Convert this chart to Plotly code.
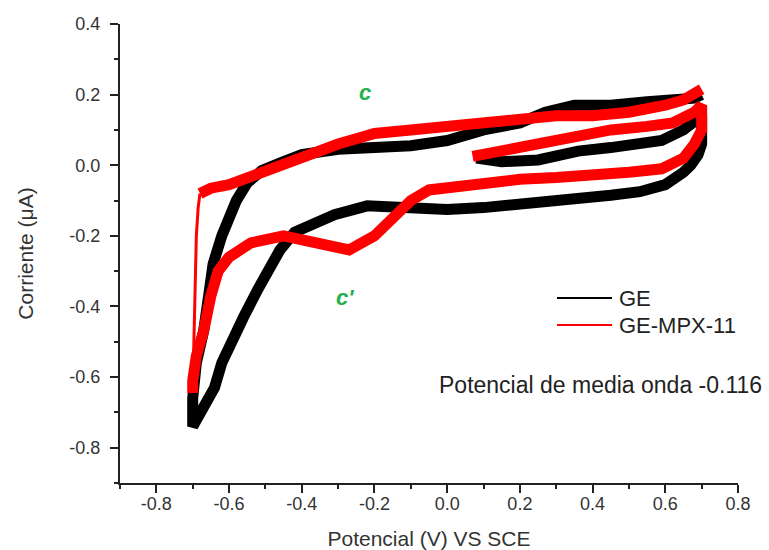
import plotly.graph_objects as go

# ---- data (V, µA) ----
# GE (black): start of scan (middle band) -> reverse (lower branch) -> forward (upper branch)
ge_x = [0.08, 0.15, 0.25, 0.36, 0.45, 0.52, 0.59, 0.65, 0.68, 0.70,
        0.70, 0.69, 0.67, 0.65, 0.60, 0.53, 0.45, 0.32, 0.20, 0.10, 0.00, -0.10, -0.22,
        -0.31, -0.36, -0.42, -0.46, -0.49, -0.52, -0.56, -0.59, -0.62, -0.64, -0.67, -0.70,
        -0.70, -0.69, -0.67, -0.657, -0.644, -0.62, -0.60, -0.58, -0.55, -0.51, -0.45, -0.40,
        -0.30, -0.20, -0.10, 0.00, 0.10, 0.20, 0.27, 0.35, 0.45, 0.55, 0.62, 0.68, 0.70]
ge_y = [0.02, 0.01, 0.015, 0.04, 0.05, 0.06, 0.07, 0.10, 0.12, 0.14,
        0.06, 0.03, 0.00, -0.02, -0.055, -0.075, -0.085, -0.10, -0.11, -0.12, -0.125, -0.12, -0.115,
        -0.14, -0.16, -0.19, -0.24, -0.29, -0.35, -0.43, -0.49, -0.56, -0.63, -0.69, -0.74,
        -0.66, -0.56, -0.47, -0.37, -0.28, -0.20, -0.15, -0.10, -0.05, -0.015, 0.01, 0.03,
        0.045, 0.05, 0.055, 0.07, 0.10, 0.12, 0.15, 0.17, 0.17, 0.18, 0.185, 0.19, 0.20]

# GE-MPX-11 (red): start (middle band) + reverse (lower branch with c')
mpx_low_x = [0.07, 0.15, 0.25, 0.33, 0.45, 0.55, 0.62, 0.68, 0.70,
             0.70, 0.68, 0.65, 0.59, 0.50, 0.40, 0.30, 0.20, 0.10, 0.00, -0.05, -0.10, -0.15,
             -0.20, -0.27, -0.32, -0.36, -0.45, -0.54, -0.60, -0.63, -0.65, -0.67, -0.69, -0.70, -0.70]
mpx_low_y = [0.025, 0.04, 0.06, 0.08, 0.10, 0.11, 0.12, 0.15, 0.17,
             0.10, 0.06, 0.02, -0.01, -0.02, -0.03, -0.035, -0.04, -0.05, -0.06, -0.07, -0.10, -0.15,
             -0.20, -0.24, -0.23, -0.22, -0.20, -0.22, -0.26, -0.30, -0.37, -0.47, -0.54, -0.61, -0.645]
# red vertical jump at the switching potential
mpx_jump_x = [-0.70, -0.695, -0.69, -0.685, -0.68]
mpx_jump_y = [-0.645, -0.40, -0.20, -0.12, -0.08]
# red forward (upper) branch
mpx_up_x = [-0.68, -0.65, -0.60, -0.55, -0.50, -0.45, -0.40, -0.35, -0.30, -0.25, -0.20,
            -0.10, 0.00, 0.10, 0.20, 0.30, 0.40, 0.50, 0.60, 0.65, 0.70]
mpx_up_y = [-0.08, -0.065, -0.055, -0.035, -0.015, 0.00, 0.02, 0.04, 0.06, 0.075, 0.09,
            0.10, 0.11, 0.12, 0.13, 0.14, 0.14, 0.15, 0.17, 0.185, 0.215]

series_names = ["GE", "GE-MPX-11"]
series_colors = ["#000000", "#ff0000"]

x_ticks = [-0.8, -0.6, -0.4, -0.2, 0.0, 0.2, 0.4, 0.6, 0.8]
y_ticks = [-0.8, -0.6, -0.4, -0.2, 0.0, 0.2, 0.4]

FONT = "Liberation Sans, Arial, sans-serif"
GREEN = "#22b14c"

# plot area in pixels (used only to place the manual legend / note in paper units)
L, R, T, B = 120, 738, 24, 483
def px(xp):
    return (xp - L) / (R - L)
def py(yp):
    return (B - yp) / (B - T)

fig = go.Figure()

band_w = 11
fig.add_trace(go.Scatter(x=ge_x, y=ge_y, mode="lines", name=series_names[0], showlegend=False,
                         line=dict(color=series_colors[0], width=band_w), hoverinfo="skip"))
fig.add_trace(go.Scatter(x=mpx_low_x, y=mpx_low_y, mode="lines", name=series_names[1], showlegend=False,
                         line=dict(color=series_colors[1], width=band_w), hoverinfo="skip"))
fig.add_trace(go.Scatter(x=mpx_jump_x, y=mpx_jump_y, mode="lines", showlegend=False,
                         line=dict(color=series_colors[1], width=3), hoverinfo="skip"))
fig.add_trace(go.Scatter(x=mpx_up_x, y=mpx_up_y, mode="lines", showlegend=False,
                         line=dict(color=series_colors[1], width=band_w), hoverinfo="skip"))

# manual legend (long line samples like the original)
for i, (name, col) in enumerate(zip(series_names, series_colors)):
    yl = 298 + i * 27
    fig.add_shape(type="line", xref="paper", yref="paper",
                  x0=px(557), x1=px(612), y0=py(yl), y1=py(yl),
                  line=dict(color=col, width=2))
    fig.add_annotation(xref="paper", yref="paper", x=px(617), y=py(yl), xanchor="left",
                       yanchor="middle", text=name, showarrow=False,
                       font=dict(family=FONT, size=22, color="#222222"))

axis_common = dict(
    showline=True, linecolor="#222222", linewidth=2,
    ticks="outside", ticklen=8, tickwidth=1.5, tickcolor="#222222",
    showgrid=False, zeroline=False, mirror=False, automargin=False,
    tickfont=dict(family=FONT, size=18, color="#333333"),
    minor=dict(ticks="outside", ticklen=4, tickwidth=1.5, tickcolor="#222222", showgrid=False),
)

fig.update_xaxes(range=[-0.9, 0.8], tickvals=x_ticks,
                 ticktext=[f"{v:.1f}" for v in x_ticks],
                 minor_dtick=0.1, minor_tick0=0.0, ticklabelstandoff=-5,
                 title=dict(text="Potencial (V) VS SCE", font=dict(family=FONT, size=21, color="#333333"),
                            standoff=22),
                 **axis_common)
fig.update_yaxes(range=[-0.9, 0.4], tickvals=y_ticks,
                 ticktext=[f"{v:.1f}" for v in y_ticks],
                 minor_dtick=0.1, minor_tick0=0.0, ticklabelstandoff=6,
                 title=dict(text="Corriente (μA)", font=dict(family=FONT, size=21, color="#333333"),
                            standoff=30),
                 **axis_common)

fig.add_annotation(x=-0.226, y=0.207, text="<b><i>c</i></b>", showarrow=False,
                   font=dict(family=FONT, size=22, color=GREEN))
fig.add_annotation(x=-0.28, y=-0.374, text="<b><i>c'</i></b>", showarrow=False,
                   font=dict(family=FONT, size=22, color=GREEN))
fig.add_annotation(xref="paper", yref="paper", x=px(764), y=py(400), xanchor="right",
                   text="Potencial de media onda -0.116", showarrow=False,
                   font=dict(family=FONT, size=23, color="#222222"))

fig.update_layout(
    width=769, height=550,
    margin=dict(l=L, r=769 - R, t=T, b=550 - B, autoexpand=False),
    paper_bgcolor="white", plot_bgcolor="white",
    showlegend=False,
)

fig.write_html("out.html")
